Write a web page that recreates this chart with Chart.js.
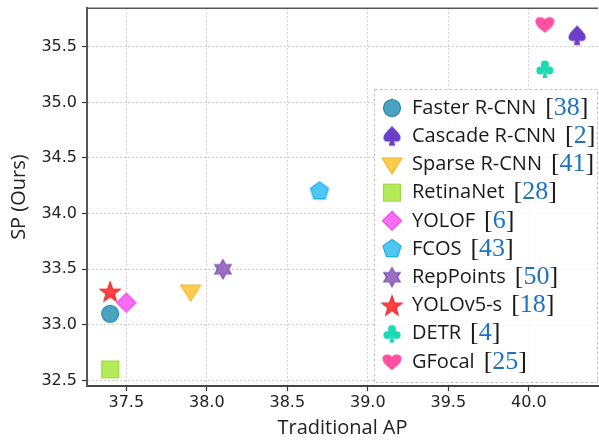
<!DOCTYPE html>
<html>
<head>
<meta charset="utf-8">
<script src="https://cdn.jsdelivr.net/npm/chart.js@4.4.0/dist/chart.umd.min.js"></script>
<style>
html, body { margin:0; padding:0; background:#fff; }
</style>
</head>
<body>
<canvas id="spChart" width="599" height="441"></canvas>
<script>
// 방법 / 참고문헌 번호
const methods = ['Faster R-CNN', 'Cascade R-CNN', 'Sparse R-CNN', 'RetinaNet', 'YOLOF',
                 'FCOS', 'RepPoints', 'YOLOv5-s', 'DETR', 'GFocal'];
const refs = ['38', '2', '41', '28', '6', '43', '50', '18', '4', '25'];

// x축 : Traditional AP, y축 : SP (Ours)
const tradAP = [37.4, 40.3, 37.9, 37.4, 37.5, 38.7, 38.1, 37.4, 40.1, 40.1];
const spOurs = [33.1, 35.6, 33.3, 32.6, 33.2, 34.2, 33.5, 33.3, 35.3, 35.7];

// 축 눈금
const xTicks = [37.5, 38.0, 38.5, 39.0, 39.5, 40.0];
const yTicks = [32.5, 33.0, 33.5, 34.0, 34.5, 35.0, 35.5];

const markers = ['circle', 'spade', 'triangleDown', 'square', 'diamond',
                 'pentagon', 'hexagram', 'star', 'club', 'heart'];
const fillColors = ['#4ba3c2', '#6a3fca', '#ffcc4d', '#b5ea58', '#fa6cf3',
                    '#4fc6f3', '#9b6dc3', '#ff4242', '#1ed8b2', '#ff4fa3'];
const edgeColors = ['#2c86a8', '#6a3fca', '#f6b632', '#a0d84a', '#e84ce6',
                    '#20aee8', '#8053b0', '#e8262a', '#1ed8b2', '#ff4fa3'];

function polygon(ctx, n, r, rot) {
	ctx.beginPath();
	for (let i = 0; i < n; i++) {
		let a = rot + i * 2 * Math.PI / n;
		ctx.lineTo(r * Math.cos(a), r * Math.sin(a));
	}
	ctx.closePath();
}

function makeMarker(kind, fill, edge) {
	const c = document.createElement('canvas');
	c.width = 26;
	c.height = 26;
	const ctx = c.getContext('2d');
	ctx.translate(13, 13);
	ctx.fillStyle = fill;
	ctx.strokeStyle = edge;
	ctx.lineWidth = 1.2;
	const up = -Math.PI / 2;

	if (kind === 'circle') {
		ctx.beginPath();
		ctx.arc(0, 0, 8.5, 0, Math.PI * 2);
	} else if (kind === 'square') {
		ctx.beginPath();
		ctx.rect(-8.5, -8.5, 17, 17);
	} else if (kind === 'diamond') {
		polygon(ctx, 4, 9.5, up);
	} else if (kind === 'triangleDown') {
		ctx.beginPath();
		ctx.moveTo(-10, -6.5);
		ctx.lineTo(10, -6.5);
		ctx.lineTo(0, 9.5);
		ctx.closePath();
	} else if (kind === 'pentagon') {
		polygon(ctx, 5, 9.5, up);
	} else if (kind === 'star') {
		ctx.beginPath();
		for (let i = 0; i < 10; i++) {
			let r = (i % 2 === 0) ? 10.5 : 4.3;
			let a = up + i * Math.PI / 5;
			ctx.lineTo(r * Math.cos(a), r * Math.sin(a) + 1);
		}
		ctx.closePath();
	} else if (kind === 'hexagram') {
		ctx.beginPath();
		for (let i = 0; i < 12; i++) {
			let r = (i % 2 === 0) ? 9.5 : 5.5;
			let a = up + i * Math.PI / 6;
			ctx.lineTo(r * Math.cos(a), r * Math.sin(a));
		}
		ctx.closePath();
	} else if (kind === 'heart') {
		ctx.beginPath();
		ctx.moveTo(0, 7.5);
		ctx.bezierCurveTo(-4, 4.5, -9, 1, -9, -3);
		ctx.bezierCurveTo(-9, -7, -3.5, -8.5, 0, -4.5);
		ctx.bezierCurveTo(3.5, -8.5, 9, -7, 9, -3);
		ctx.bezierCurveTo(9, 1, 4, 4.5, 0, 7.5);
		ctx.closePath();
	} else if (kind === 'spade') {
		ctx.beginPath();
		ctx.moveTo(0, -9.5);
		ctx.bezierCurveTo(3, -5.5, 8, -2.5, 8, 1.5);
		ctx.bezierCurveTo(8, 5, 4, 6, 1, 3.5);
		ctx.lineTo(2.5, 9);
		ctx.lineTo(-2.5, 9);
		ctx.lineTo(-1, 3.5);
		ctx.bezierCurveTo(-4, 6, -8, 5, -8, 1.5);
		ctx.bezierCurveTo(-8, -2.5, -3, -5.5, 0, -9.5);
		ctx.closePath();
	} else if (kind === 'club') {
		ctx.beginPath();
		ctx.arc(0, -4.6, 4, 0, Math.PI * 2);
		ctx.moveTo(-4.6 + 4, 1.4);
		ctx.arc(-4.6, 1.4, 4, 0, Math.PI * 2);
		ctx.moveTo(4.6 + 4, 1.4);
		ctx.arc(4.6, 1.4, 4, 0, Math.PI * 2);
		ctx.fill();
		ctx.beginPath();
		ctx.moveTo(0, -1);
		ctx.lineTo(2.5, 9);
		ctx.lineTo(-2.5, 9);
		ctx.closePath();
		ctx.fill();
		ctx.fillRect(-2.5, -3, 5, 5);
		return c;
	}
	ctx.fill();
	ctx.stroke();
	return c;
}

const markerImgs = markers.map(function(kind, i) {
	return makeMarker(kind, fillColors[i], edgeColors[i]);
});

let datasets = methods.map(function(name, i) {
	return {
		label: name,
		data: [{ x: tradAP[i], y: spOurs[i] }],
		pointStyle: markerImgs[i],
		pointRadius: 10,
		backgroundColor: fillColors[i],
		borderColor: edgeColors[i]
	};
});

// 윗 테두리 + 범례 (참고문헌 번호는 파란 세리프)
const spPlugin = {
	id: 'spPlugin',
	afterDraw: function(chart) {
		const ctx = chart.ctx;
		const area = chart.chartArea;
		ctx.save();
		ctx.strokeStyle = '#555';
		ctx.lineWidth = 1.5;
		ctx.beginPath();
		ctx.moveTo(area.left, area.top);
		ctx.lineTo(area.right, area.top);
		ctx.stroke();

		const lx = 374, ly = 89, lw = 223, lh = 293;
		ctx.fillStyle = 'rgba(255,255,255,0.85)';
		ctx.fillRect(lx, ly, lw, lh);
		ctx.strokeStyle = '#c4c4c4';
		ctx.lineWidth = 1;
		ctx.setLineDash([3, 2]);
		ctx.strokeRect(lx + 0.5, ly + 0.5, lw, lh);
		ctx.setLineDash([]);

		ctx.textBaseline = 'middle';
		for (let i = 0; i < methods.length; i++) {
			let rowY = 108 + i * 28.2;
			let img = markerImgs[i];
			ctx.drawImage(img, 392 - img.width / 2, rowY - img.height / 2);

			let tx = 412;
			ctx.font = '20px "Open Sans"';
			ctx.fillStyle = '#1a1a1a';
			ctx.fillText(methods[i], tx, rowY);
			tx += ctx.measureText(methods[i]).width + 9;

			ctx.font = '26px "Liberation Serif"';
			ctx.fillStyle = '#1a1a1a';
			ctx.fillText('[', tx, rowY);
			tx += ctx.measureText('[').width;
			ctx.fillStyle = '#1f72c0';
			ctx.fillText(refs[i], tx, rowY);
			tx += ctx.measureText(refs[i]).width;
			ctx.fillStyle = '#1a1a1a';
			ctx.fillText(']', tx, rowY);
		}
		ctx.restore();
	}
};

const tickFont = { family: 'DejaVu Sans', size: 16 };
const titleFont = { family: 'Open Sans', size: 20 };

new Chart(document.getElementById('spChart').getContext('2d'), {
	type: 'scatter',
	data: { datasets: datasets },
	plugins: [spPlugin],
	options: {
		responsive: false,
		animation: false,
		events: [],
		layout: { autoPadding: false, padding: { top: 4, right: 1, left: 0, bottom: 0 } },
		plugins: {
			legend: { display: false },
			tooltip: { enabled: false }
		},
		scales: {
			x: {
				type: 'linear',
				min: 37.256,
				max: 40.43,
				afterFit: function(scale) {
					scale.height = 55;
				},
				afterBuildTicks: function(scale) {
					scale.ticks = xTicks.map(function(v) { return { value: v }; });
				},
				ticks: {
					font: tickFont,
					color: '#222',
					padding: 2,
					maxRotation: 0,
					callback: function(v) { return Number(v).toFixed(1); }
				},
				grid: { color: '#cfcfcf', lineWidth: 1, tickLength: 5, tickColor: '#333', tickWidth: 1.2 },
				border: { color: '#444', width: 2, dash: [2, 2] },
				title: { display: true, text: 'Traditional AP', font: titleFont, color: '#222', padding: { top: 0, bottom: 1 } }
			},
			y: {
				type: 'linear',
				min: 32.451,
				max: 35.846,
				afterFit: function(scale) {
					scale.width = 87;
				},
				afterBuildTicks: function(scale) {
					scale.ticks = yTicks.map(function(v) { return { value: v }; });
				},
				ticks: {
					font: { family: 'DejaVu Sans', size: 16, lineHeight: 0.4 },
					color: '#222',
					padding: 5,
					callback: function(v) { return Number(v).toFixed(1); }
				},
				grid: { color: '#cfcfcf', lineWidth: 1, tickLength: 5, tickColor: '#333', tickWidth: 1.2 },
				border: { color: '#555', width: 2, dash: [2, 2] },
				title: { display: true, text: 'SP (Ours)', font: titleFont, color: '#222', padding: { top: 7, bottom: 0 } }
			}
		}
	}
});
</script>
</body>
</html>
